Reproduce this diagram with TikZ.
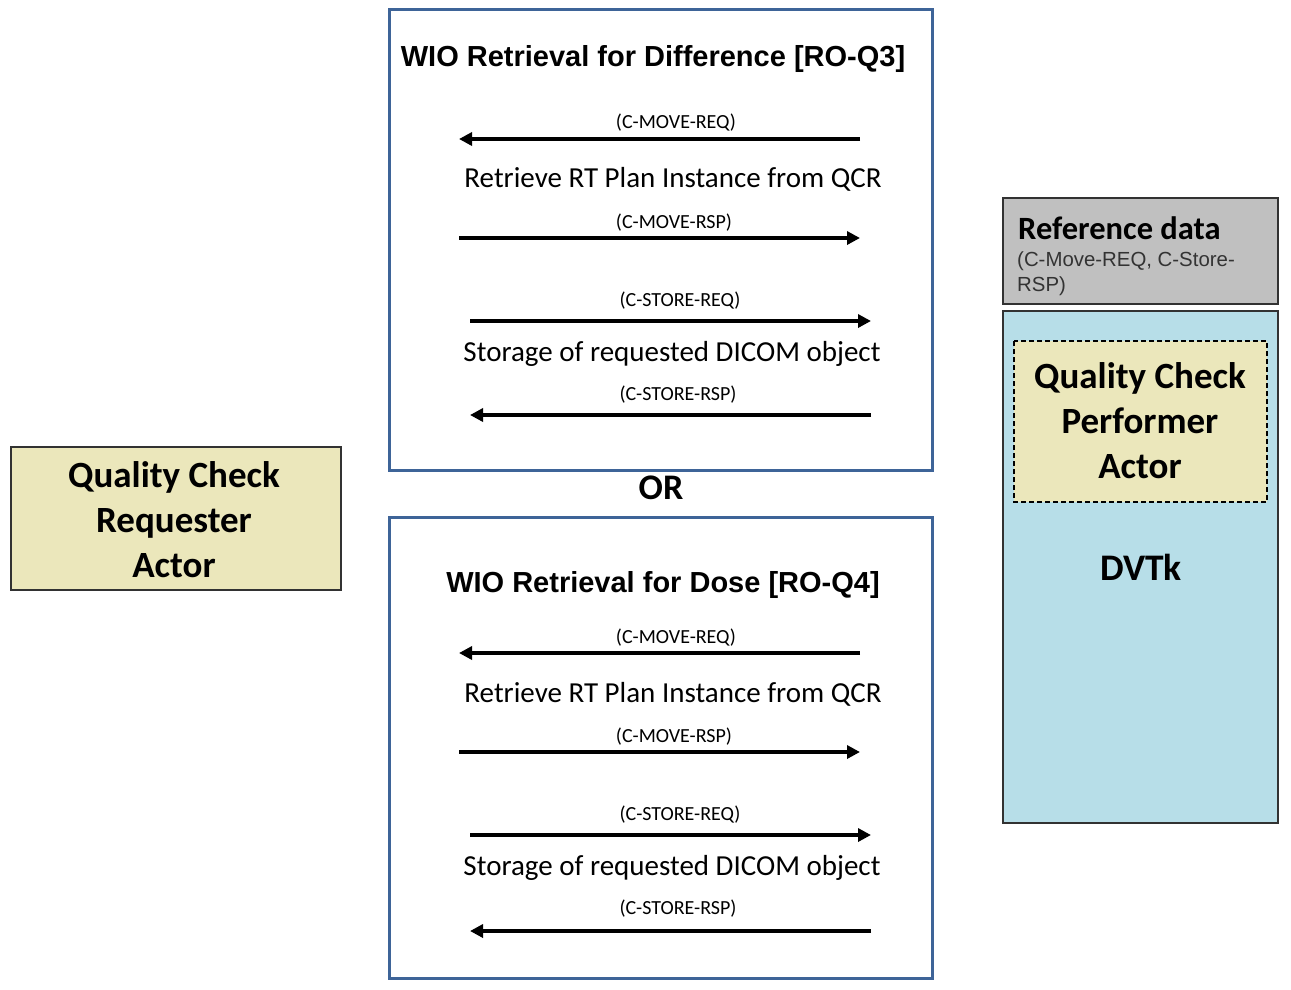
\documentclass[tikz,border=0pt]{standalone}
\usepackage{fontspec}
\setmainfont{Carlito}
\newfontfamily\arialf{Liberation Sans}
\usetikzlibrary{arrows.meta}
\definecolor{wioblue}{RGB}{62,100,152}
\definecolor{actortan}{RGB}{235,231,187}
\definecolor{dvtkblue}{RGB}{183,222,232}
\definecolor{refgray}{RGB}{192,192,192}
\definecolor{edgegray}{RGB}{50,50,50}
\tikzset{
  wiobox/.style={draw=wioblue, line width=3pt},
  msg/.style={line width=3.5pt, -{Triangle[length=13pt,width=13pt]}},
  msglabel/.style={font=\fontsize{20}{22}\selectfont, inner sep=0pt},
  msgtext/.style={font=\fontsize{29}{32}\selectfont, inner sep=0pt},
  wiotitle/.style={font=\arialf\bfseries\fontsize{29}{31}\selectfont, inner sep=0pt},
  actortext/.style={font=\bfseries\fontsize{37}{45}\selectfont, align=center, inner sep=0pt},
}
\begin{document}
\begin{tikzpicture}[x=1pt,y=-1pt]
\useasboundingbox (0,0) rectangle (1291,989);
\fill[white] (0,0) rectangle (1291,989);

% WIO boxes
\draw[wiobox] (389,9) rectangle (932,470);
\draw[wiobox] (389,517) rectangle (932,978);

% top box content
\node[wiotitle] (t1) at (653,59) {WIO Retrieval for Difference [RO-Q3]};
\coordinate (a1s) at (860,139); \coordinate (a1e) at (459,139);
\draw[msg] (a1s) -- (a1e);
\node[msglabel] (l1) at (676,123) {(C-MOVE-REQ)};
\node[msgtext] (m1) at (673,179) {Retrieve RT Plan Instance from QCR};
\coordinate (a2s) at (459,238); \coordinate (a2e) at (860,238);
\draw[msg] (a2s) -- (a2e);
\node[msglabel] (l2) at (674,223) {(C-MOVE-RSP)};
\coordinate (a3s) at (470,321); \coordinate (a3e) at (871,321);
\draw[msg] (a3s) -- (a3e);
\node[msglabel] (l3) at (680,301) {(C-STORE-REQ)};
\node[msgtext] (m2) at (672,354) {Storage of requested DICOM object};
\coordinate (a4s) at (871,415); \coordinate (a4e) at (470,415);
\draw[msg] (a4s) -- (a4e);
\node[msglabel] (l4) at (678,395) {(C-STORE-RSP)};

% OR
\node[font=\bfseries\fontsize{36}{38}\selectfont, inner sep=0pt] (or) at (661,488) {OR};

% bottom box content
\node[wiotitle] (t2) at (663,585) {WIO Retrieval for Dose [RO-Q4]};
\coordinate (b1s) at (860,653); \coordinate (b1e) at (459,653);
\draw[msg] (b1s) -- (b1e);
\node[msglabel] (k1) at (676,638) {(C-MOVE-REQ)};
\node[msgtext] (n1) at (673,694) {Retrieve RT Plan Instance from QCR};
\coordinate (b2s) at (459,752); \coordinate (b2e) at (860,752);
\draw[msg] (b2s) -- (b2e);
\node[msglabel] (k2) at (674,737) {(C-MOVE-RSP)};
\coordinate (b3s) at (470,835); \coordinate (b3e) at (871,835);
\draw[msg] (b3s) -- (b3e);
\node[msglabel] (k3) at (680,815) {(C-STORE-REQ)};
\node[msgtext] (n2) at (672,868) {Storage of requested DICOM object};
\coordinate (b4s) at (871,931); \coordinate (b4e) at (470,931);
\draw[msg] (b4s) -- (b4e);
\node[msglabel] (k4) at (678,909) {(C-STORE-RSP)};

% left actor
\draw[fill=actortan, draw=edgegray, line width=1.5pt] (11,447) rectangle (341,590);
\node[actortext] (req) at (174,520) {Quality Check\\Requester\\Actor};

% right side
\draw[fill=refgray, draw=edgegray, line width=1.5pt] (1003,198) rectangle (1278,304);
\node[font=\bfseries\fontsize{32.5}{34}\selectfont, anchor=west, inner sep=0pt] (refd) at (1018,228) {Reference data};
\node[font=\arialf\fontsize{20.4}{25}\selectfont, anchor=north west, align=left, inner sep=0pt, text=black!80] (refs) at (1017,252) {(C-Move-REQ, C-Store-\\RSP)};

\draw[fill=dvtkblue, draw=edgegray, line width=1.5pt] (1003,311) rectangle (1278,823);
\draw[fill=actortan, draw=black, line width=1.2pt, dash pattern=on 5pt off 3pt] (1014,341) rectangle (1267,502);
\node[actortext] (perf) at (1140,421) {Quality Check\\Performer\\Actor};
\node[font=\bfseries\fontsize{37.5}{40}\selectfont, inner sep=0pt] (dvtk) at (1141,567) {DVTk};
\end{tikzpicture}
\end{document}
